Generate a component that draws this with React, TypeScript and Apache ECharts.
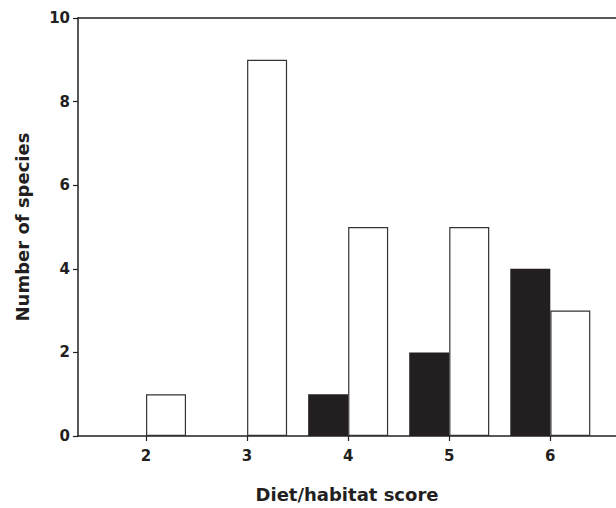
import React, { useEffect, useRef } from "react";
import * as echarts from "echarts";

const scores = [2, 3, 4, 5, 6];
const blackSeries = [0, 0, 1, 2, 4];
const whiteSeries = [1, 9, 5, 5, 3];
const yTicks = [0, 2, 4, 6, 8, 10];

export default function App() {
  const ref = useRef<HTMLDivElement>(null);
  useEffect(() => {
    document.body.style.margin = "0";
    const chart = echarts.init(ref.current!, null, { renderer: "svg" });
    const ink = "#231f20";
    const font = "'DejaVu Sans', 'Liberation Sans', Arial, sans-serif";
    chart.setOption({
      animation: false,
      backgroundColor: "#ffffff",
      grid: { left: 78, right: 0, top: 18, bottom: 67, containLabel: false },
      xAxis: [
        {
          type: "value",
          min: 1.327,
          max: 6.65,
          splitLine: { show: false },
          axisLine: { show: true, onZero: false, lineStyle: { color: ink, width: 1.5 } },
          axisTick: { show: true, customValues: scores, length: 5, lineStyle: { color: ink, width: 1.2 } },
          axisLabel: {
            customValues: scores,
            margin: 12,
            fontFamily: font,
            fontWeight: "bold",
            fontSize: 15,
            color: ink,
          },
          name: "Diet/habitat score",
          nameLocation: "middle",
          nameGap: 49,
          nameTextStyle: { fontFamily: font, fontWeight: "bold", fontSize: 18, color: ink },
        },
        {
          type: "value",
          position: "top",
          min: 1.327,
          max: 6.65,
          splitLine: { show: false },
          axisLine: { show: true, onZero: false, lineStyle: { color: ink, width: 1.5 } },
          axisTick: { show: false },
          axisLabel: { show: false },
        },
      ],
      yAxis: {
        type: "value",
        min: 0,
        max: 10,
        interval: 2,
        splitLine: { show: false },
        axisLine: { show: true, lineStyle: { color: ink, width: 1.5 } },
        axisTick: { show: true, length: 5, lineStyle: { color: ink, width: 1.2 } },
        axisLabel: {
          margin: 8,
          fontFamily: font,
          fontWeight: "bold",
          fontSize: 15,
          color: ink,
          customValues: yTicks,
        },
        name: "Number of species",
        nameLocation: "middle",
        nameGap: 47,
        nameRotate: 90,
        nameTextStyle: { fontFamily: font, fontWeight: "bold", fontSize: 18, color: ink },
      },
      series: [
        {
          type: "bar",
          xAxisIndex: 0,
          barWidth: 40,
          barGap: "0%",
          data: scores.map((s, i) => [s, blackSeries[i]]),
          itemStyle: { color: ink, borderColor: ink, borderWidth: 0 },
        },
        {
          type: "bar",
          xAxisIndex: 0,
          barWidth: 40,
          barGap: "0%",
          data: scores.map((s, i) => [s, whiteSeries[i]]),
          itemStyle: { color: "#ffffff", borderColor: "#333333", borderWidth: 1.2 },
        },
      ],
    });
    return () => chart.dispose();
  }, []);
  return <div ref={ref} style={{ width: 616, height: 508 }} />;
}
